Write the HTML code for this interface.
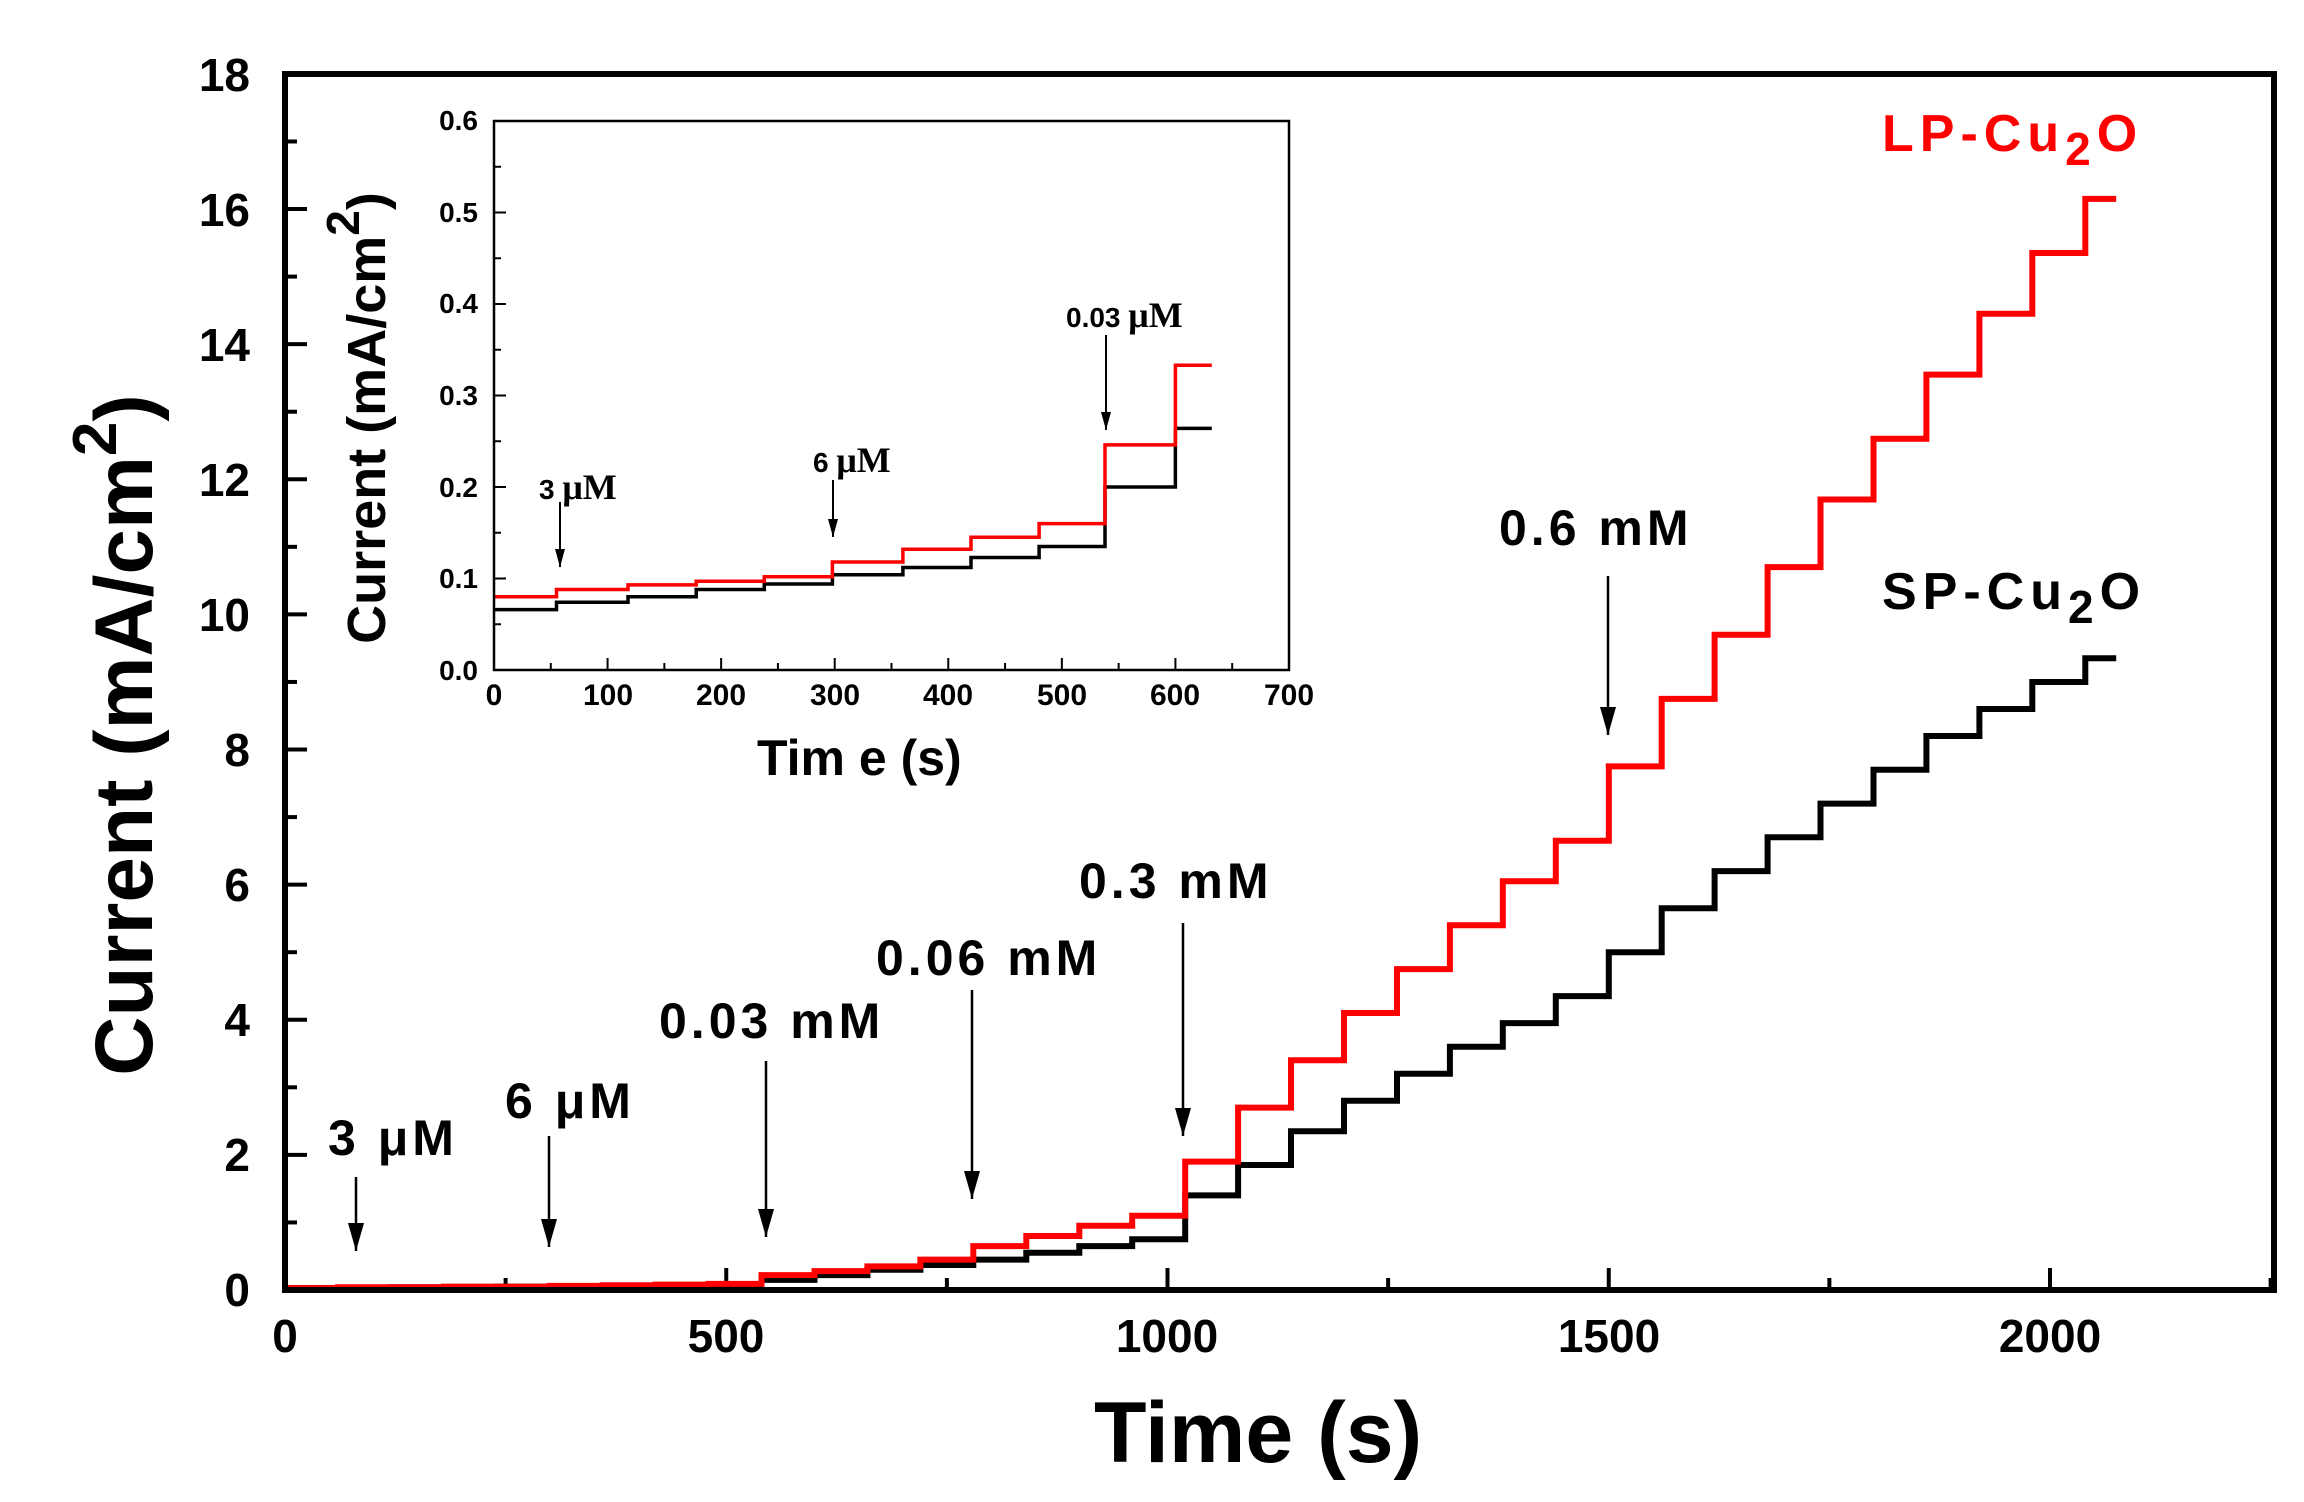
<!DOCTYPE html>
<html><head><meta charset="utf-8"><style>
html,body{margin:0;padding:0;background:#fff}
svg{display:block}
text{font-family:"Liberation Sans",Arial,sans-serif;font-weight:bold}
</style></head><body>
<svg id="s" width="2304" height="1502" viewBox="0 0 2304 1502" xmlns="http://www.w3.org/2000/svg">
<defs>
<marker id="ah" markerWidth="30" markerHeight="16" refX="28" refY="8" orient="auto" markerUnits="userSpaceOnUse">
<path d="M0,0 L28,8 L0,16 Z" fill="#000"/></marker>
<marker id="ah2" markerWidth="20" markerHeight="10" refX="18" refY="5" orient="auto" markerUnits="userSpaceOnUse">
<path d="M0,0 L18,5 L0,10 Z" fill="#000"/></marker>
</defs>
<g id="main"></g>
<g id="ins"></g>
<rect x="285" y="74" width="1989" height="1216" fill="none" stroke="#000" stroke-width="6"/>
<g font-size="46" text-anchor="end">
<text x="250" y="1306">0</text><text x="250" y="1171">2</text><text x="250" y="1036">4</text>
<text x="250" y="901">6</text><text x="250" y="766">8</text><text x="250" y="631">10</text>
<text x="250" y="496">12</text><text x="250" y="361">14</text><text x="250" y="226">16</text>
<text x="250" y="91">18</text>
</g>
<g font-size="46" text-anchor="middle">
<text x="285" y="1352">0</text><text x="726" y="1352">500</text><text x="1167" y="1352">1000</text>
<text x="1609" y="1352">1500</text><text x="2050" y="1352">2000</text>
</g>
<text x="1094" y="1462" font-size="86">Time  (s)</text>
<text transform="translate(152,735) rotate(-90)" text-anchor="middle" font-size="82">Current (mA/cm<tspan dy="-36" font-size="62">2</tspan><tspan dy="36">)</tspan></text>
<text x="1882" y="151" font-size="52" fill="#f00" letter-spacing="6">LP-Cu<tspan dy="14" font-size="46">2</tspan><tspan dy="-14">O</tspan></text>
<text x="1882" y="609" font-size="52" fill="#000" letter-spacing="6">SP-Cu<tspan dy="14" font-size="46">2</tspan><tspan dy="-14">O</tspan></text>
<g font-size="50" letter-spacing="4">
<text x="1499" y="545">0.6 mM</text>
<text x="1079" y="898">0.3 mM</text>
<text x="876" y="975">0.06 mM</text>
<text x="659" y="1038">0.03 mM</text>
<text x="505" y="1118">6 μM</text>
<text x="328" y="1155">3 μM</text>
</g>
<g stroke="#000" stroke-width="2.5" marker-end="url(#ah)">
<line x1="1608" y1="576" x2="1608" y2="735"/>
<line x1="1183" y1="923" x2="1183" y2="1136"/>
<line x1="972" y1="990" x2="972" y2="1199"/>
<line x1="766" y1="1061" x2="766" y2="1237"/>
<line x1="549" y1="1136" x2="549" y2="1247"/>
<line x1="356" y1="1177" x2="356" y2="1251"/>
</g>
<rect x="494" y="121" width="795" height="549" fill="none" stroke="#000" stroke-width="2.5"/>
<g font-size="28" text-anchor="end">
<text x="478" y="680">0.0</text><text x="478" y="588">0.1</text><text x="478" y="497">0.2</text>
<text x="478" y="405">0.3</text><text x="478" y="313">0.4</text><text x="478" y="222">0.5</text>
<text x="478" y="130">0.6</text>
</g>
<g font-size="30" text-anchor="middle">
<text x="494" y="705">0</text><text x="608" y="705">100</text><text x="721" y="705">200</text>
<text x="835" y="705">300</text><text x="948" y="705">400</text><text x="1062" y="705">500</text>
<text x="1175" y="705">600</text><text x="1289" y="705">700</text>
</g>
<text x="757" y="775" font-size="50">Tim e  (s)</text>
<text transform="translate(385,418) rotate(-90)" text-anchor="middle" font-size="54">Current (mA/cm<tspan dy="-26" font-size="46">2</tspan><tspan dy="26">)</tspan></text>
<text x="539" y="499" style="font-size:28px">3 <tspan style="font-family:'Liberation Serif';font-size:36px">μM</tspan></text>
<text x="813" y="472" style="font-size:28px">6 <tspan style="font-family:'Liberation Serif';font-size:36px">μM</tspan></text>
<text x="1066" y="327" style="font-size:28px">0.03 <tspan style="font-family:'Liberation Serif';font-size:36px">μM</tspan></text>
<g stroke="#000" stroke-width="2" marker-end="url(#ah2)">
<line x1="560" y1="502" x2="560" y2="567"/>
<line x1="833" y1="480" x2="833" y2="537"/>
<line x1="1106" y1="335" x2="1106" y2="430"/>
</g>
</svg>
<script>
var NS="http://www.w3.org/2000/svg";
function el(p,t,a){var e=document.createElementNS(NS,t);for(var k in a)e.setAttribute(k,a[k]);p.appendChild(e);return e;}
var main=document.getElementById("main"),ins=document.getElementById("ins");
var X=function(t){return 285+t*0.8825},Y=function(v){return 1290-v*67.56};
for(var t=0;t<=2250;t+=250){var L=t%500==0?22:12;el(main,"line",{x1:X(t),x2:X(t),y1:1290,y2:1290-L,stroke:"#000","stroke-width":4});}
for(var v=0;v<=18;v+=1){var L=v%2==0?22:12;el(main,"line",{x1:285,x2:285+L,y1:Y(v),y2:Y(v),stroke:"#000","stroke-width":4});}
function steps(times,levels,end,Xf,Yf){
 var d="";
 for(var i=0;i<levels.length;i++){
  var t0=times[i],t1=(i+1<times.length)?times[i+1]:end;
  var y=Yf(levels[i]);
  d+=(i==0?"M":"L")+Xf(t0).toFixed(1)+","+y.toFixed(1)+"L"+Xf(t1).toFixed(1)+","+y.toFixed(1);
 }
 return d;
}
var mt=[0,60,120,180,240,300,360,420,480,540,600,660,720,780,840,900,960,1020,1080,1140,1200,1260,1320,1380,1440,1500,1560,1620,1680,1740,1800,1860,1920,1980,2040];
var red=[0.03,0.04,0.04,0.05,0.05,0.06,0.07,0.08,0.09,0.22,0.28,0.35,0.45,0.65,0.8,0.95,1.1,1.9,2.7,3.4,4.1,4.75,5.4,6.05,6.65,7.75,8.75,9.7,10.7,11.7,12.6,13.55,14.45,15.35,16.15];
var blk=[0.02,0.03,0.04,0.04,0.05,0.05,0.06,0.06,0.07,0.15,0.22,0.3,0.37,0.45,0.55,0.65,0.75,1.4,1.85,2.35,2.8,3.2,3.6,3.95,4.35,5.0,5.65,6.2,6.7,7.2,7.7,8.2,8.6,9.0,9.35];
el(main,"path",{d:steps(mt,blk,2075,X,Y),fill:"none",stroke:"#000","stroke-width":6});
el(main,"path",{d:steps(mt,red,2075,X,Y),fill:"none",stroke:"#f00","stroke-width":6});
var IX=function(t){return 494+t*1.1357},IY=function(v){return 670-v*915};
for(var t=0;t<=700;t+=50){var L=t%100==0?12:7;el(ins,"line",{x1:IX(t),x2:IX(t),y1:670,y2:670-L,stroke:"#000","stroke-width":2});}
for(var i=0;i<=12;i++){var v=i*0.05;var L=(i%2==0)?12:7;el(ins,"line",{x1:494,x2:494+L,y1:IY(v),y2:IY(v),stroke:"#000","stroke-width":2});}
var it=[0,55,118,178,238,298,360,420,480,538,600];
var ir=[0.08,0.088,0.093,0.097,0.102,0.118,0.132,0.145,0.16,0.246,0.333];
var ib=[0.066,0.074,0.08,0.088,0.094,0.104,0.112,0.123,0.135,0.2,0.264];
el(ins,"path",{d:steps(it,ib,632,IX,IY),fill:"none",stroke:"#000","stroke-width":3.5});
el(ins,"path",{d:steps(it,ir,632,IX,IY),fill:"none",stroke:"#f00","stroke-width":3.5});
</script>
</body></html>
